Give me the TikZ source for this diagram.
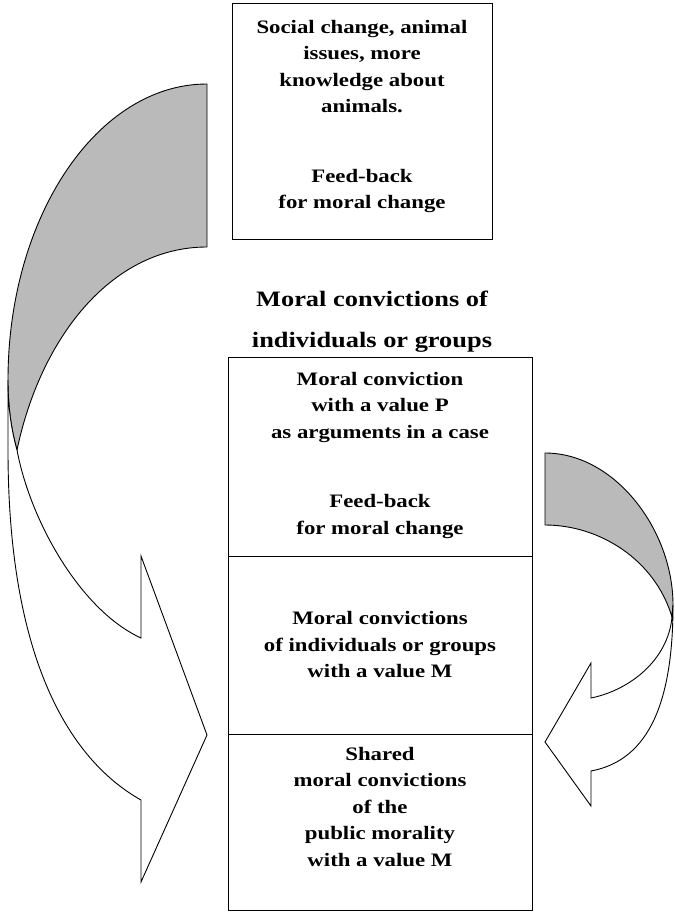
\documentclass[tikz,border=0pt]{standalone}
\usepackage{fontspec}
\setmainfont{Liberation Serif}[FakeStretch=1.2]
\usepackage{tikz}
\usetikzlibrary{positioning}
\definecolor{mcink}{HTML}{000000}
\definecolor{mcshade}{HTML}{BABABA}

\begin{document}
\begin{tikzpicture}[x=1pt,y=-1pt,
  cell/.style={draw=mcink,line width=1pt,minimum width=304pt,inner sep=0pt,outer sep=0pt},
  txt/.style={align=center,inner sep=0pt,font=\fontsize{19}{26.5}\selectfont\bfseries},
  head/.style={align=center,inner sep=0pt,font=\fontsize{22}{41}\selectfont\bfseries},
  back/.style={draw=mcink,line width=0.9pt,fill=mcshade},
  front/.style={draw=mcink,line width=0.9pt,fill=white}
]
\useasboundingbox (0,0) rectangle (674,912);

% top box
\node[cell,minimum width=260pt,minimum height=235pt] (social) at (362,121.5) {};
\node[txt,below=16pt of social.north] (socialtxt) {Social change, animal\\issues, more\\knowledge about\\animals.\\[43pt]Feed-back\\for moral change};

\node[head] (convhead) at (372,322) {Moral convictions of\\individuals or groups};

% the three cells
\node[cell,minimum height=199pt] (valP) at (380,456.5) {};
\node[txt,below=15pt of valP.north] (valPtxt) {Moral conviction\\with a value P\\as arguments in a case\\[43pt]Feed-back\\for moral change};
\node[cell,minimum height=178pt,below=0pt of valP] (valM) {};
\node[txt] (valMtxt) at (valM) {Moral convictions\\of individuals or groups\\with a value M};
\node[cell,minimum height=176pt,below=0pt of valM] (shared) {};
\node[txt,below=13pt of shared.north] (sharedtxt) {Shared\\moral convictions\\of the\\public morality\\with a value M};

% big curved arrow, left
\draw[back] (207,84) .. controls (97,84) and (8,217) .. (8,380)
  .. controls (8,410) and (12,432) .. (17,450)
  .. controls (40,340) and (110,247) .. (207,247) -- cycle;
\draw[front] (8,380) -- (8,450) .. controls (8,660) and (70,760) .. (141,800)
  -- (141,882) -- (207,735) -- (141,556) -- (141,638)
  .. controls (80,610) and (30,520) .. (17,450)
  .. controls (12,432) and (8,410) .. (8,380) -- cycle;

% small curved arrow, right
\draw[back] (545,453) .. controls (615,453) and (673,530) .. (673,605)
  -- (672,617) .. controls (655,560) and (600,525) .. (545,525) -- cycle;
\draw[front] (673,605) .. controls (673,700) and (650,760) .. (591,771)
  -- (591,806) -- (545,742) -- (591,663) -- (591,698)
  .. controls (630,690) and (668,660) .. (672,617) -- cycle;
\end{tikzpicture}
\end{document}
